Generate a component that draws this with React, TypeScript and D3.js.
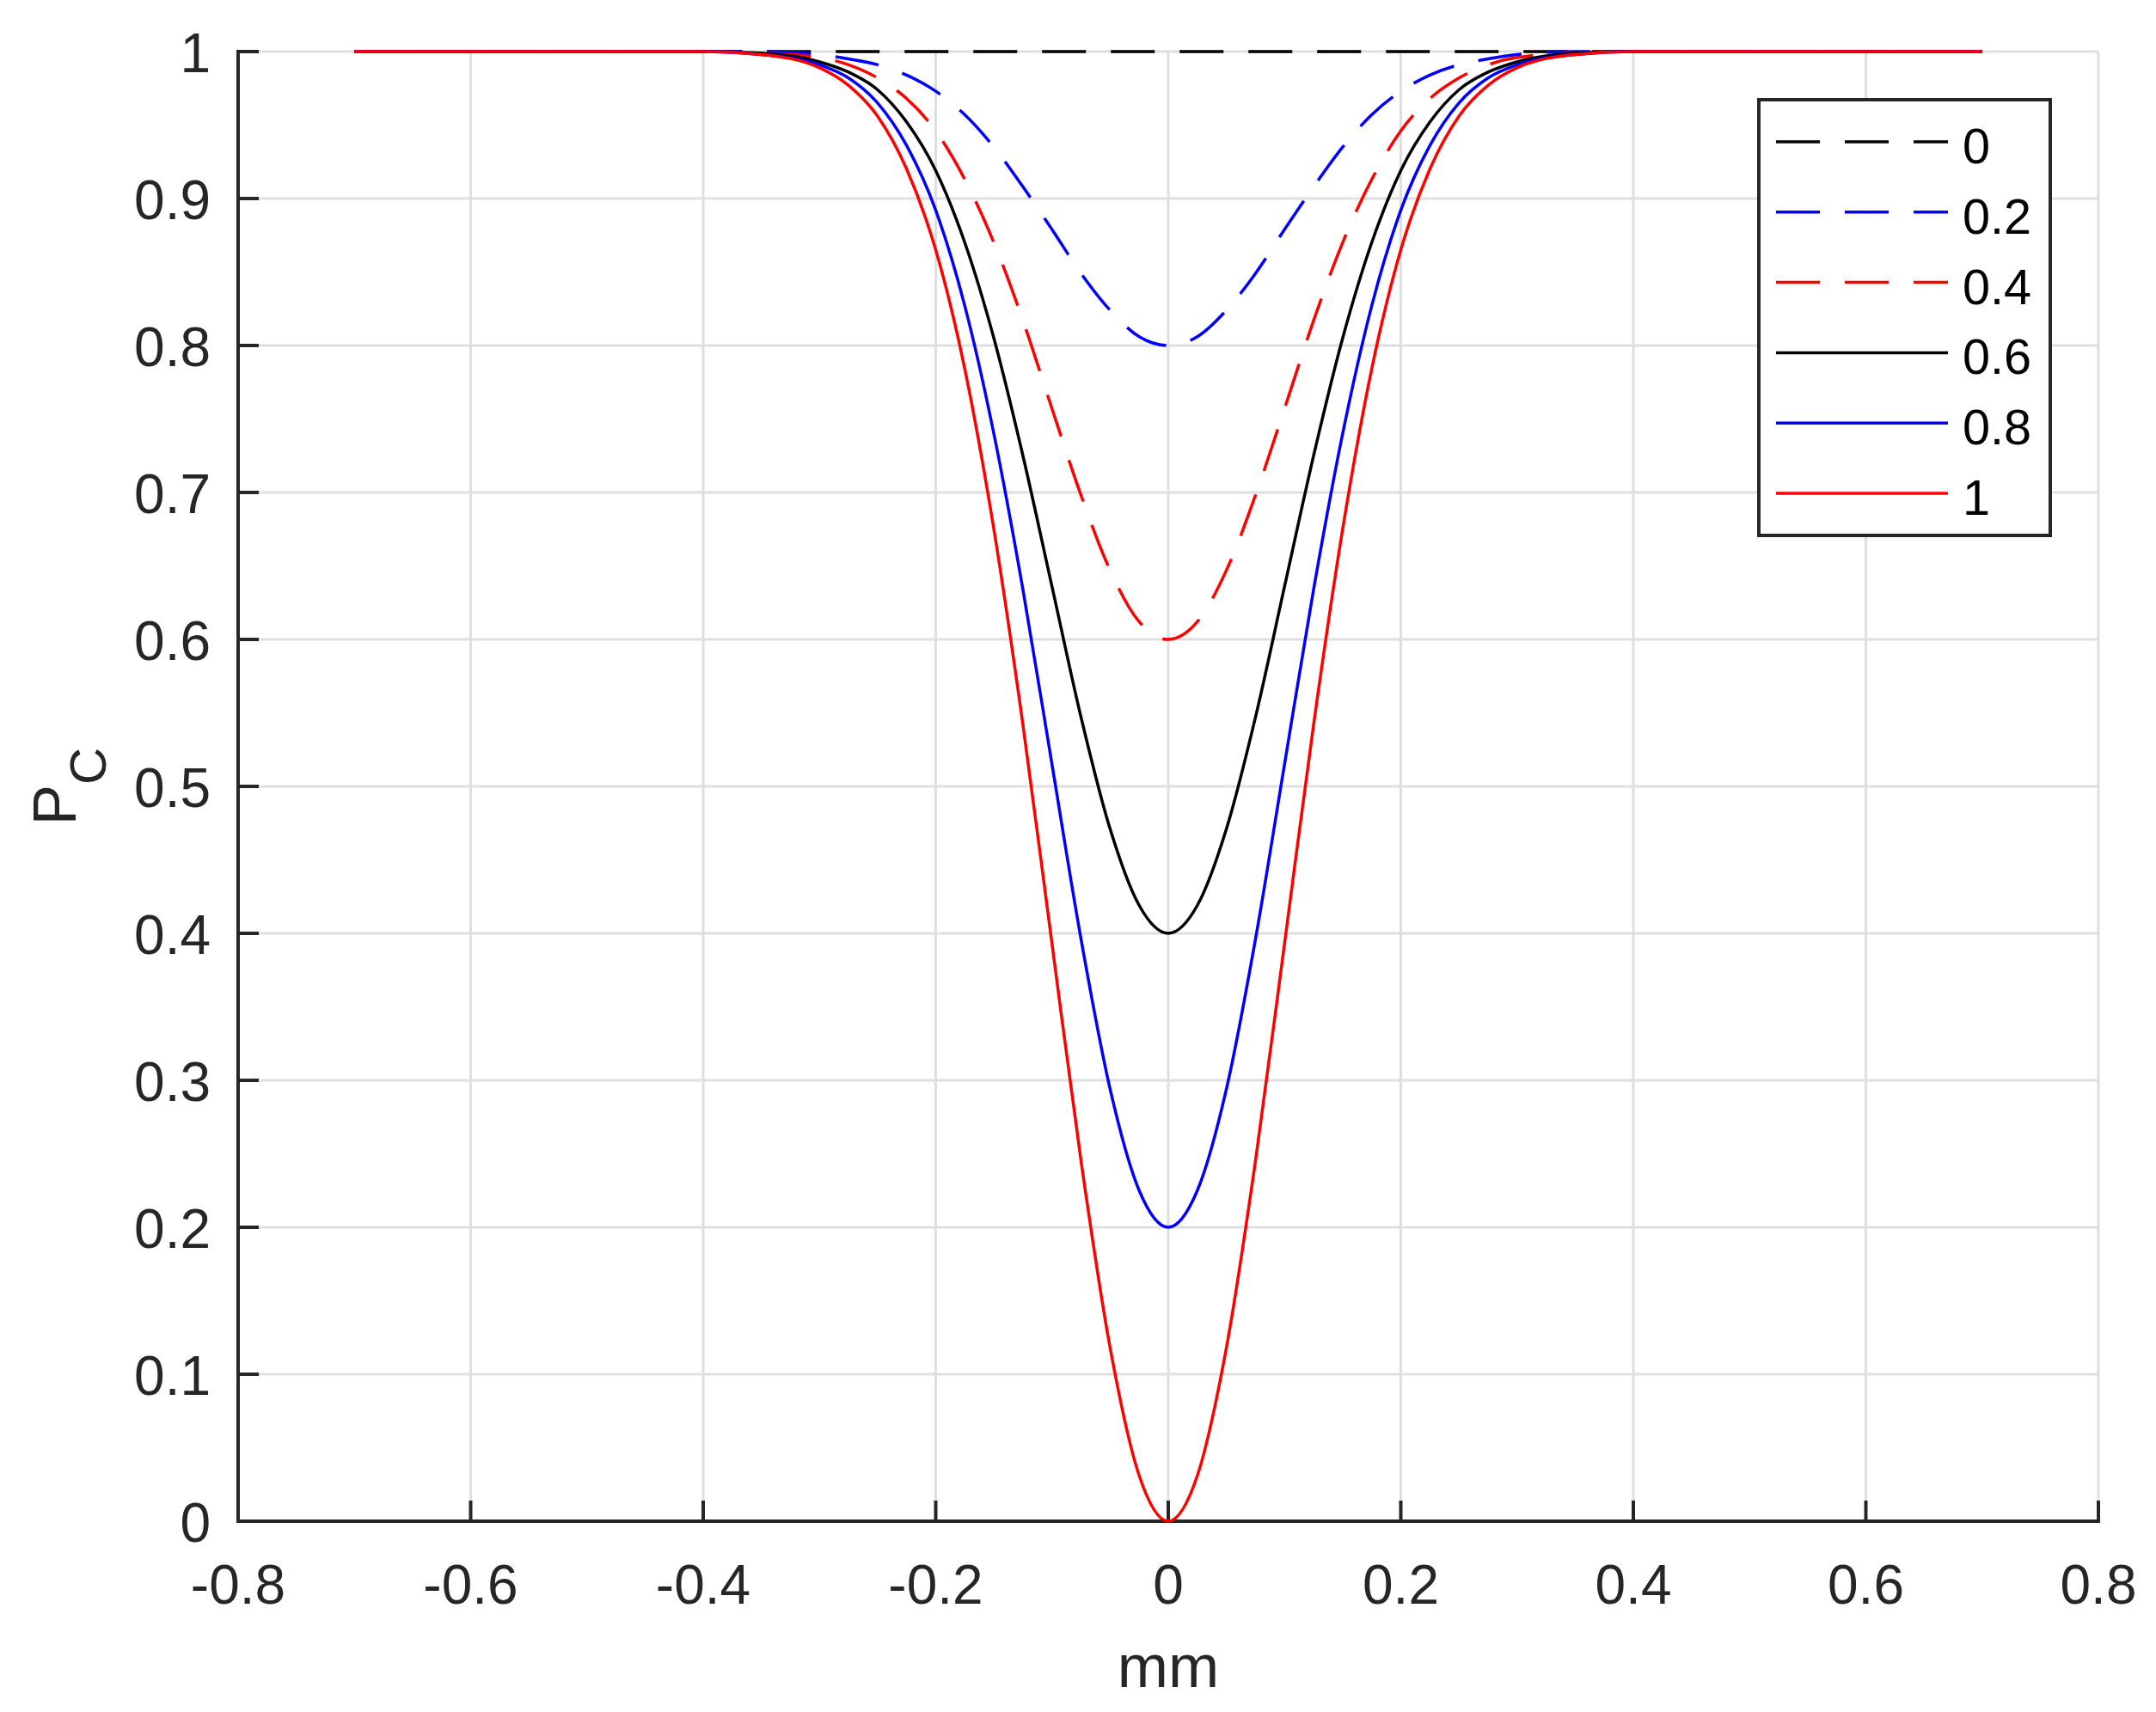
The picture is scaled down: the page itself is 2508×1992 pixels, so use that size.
// App.tsx
import React, { useRef, useEffect, FC } from 'react';
import * as d3 from 'd3';

// x positions (mm) of the sampled points
const xs = [
  -0.7, -0.5, -0.4, -0.35, -0.3, -0.275, -0.25, -0.225, -0.2, -0.175, -0.15, -0.125, -0.1, -0.075, -0.05, -0.025,
  0,
  0.025, 0.05, 0.075, 0.1, 0.125, 0.15, 0.175, 0.2, 0.225, 0.25, 0.275, 0.3, 0.35, 0.4, 0.5, 0.7,
];

// P_C values, one array per curve
const pc00 = [
  1, 1, 1, 1, 1, 1, 1, 1, 1, 1, 1, 1, 1, 1, 1, 1,
  1,
  1, 1, 1, 1, 1, 1, 1, 1, 1, 1, 1, 1, 1, 1, 1, 1,
];
const pc02 = [
  1, 1, 1.0, 1.0, 0.998, 0.995, 0.991, 0.984, 0.973, 0.957, 0.935, 0.908, 0.879, 0.849, 0.824, 0.806,
  0.8,
  0.806, 0.824, 0.849, 0.879, 0.908, 0.935, 0.957, 0.973, 0.984, 0.991, 0.995, 0.998, 1.0, 1.0, 1, 1,
];
const pc04 = [
  1, 1, 1, 0.999, 0.996, 0.991, 0.982, 0.968, 0.946, 0.913, 0.87, 0.817, 0.757, 0.698, 0.647, 0.612,
  0.6,
  0.612, 0.647, 0.698, 0.757, 0.817, 0.87, 0.913, 0.946, 0.968, 0.982, 0.991, 0.996, 0.999, 1, 1, 1,
];
const pc06 = [
  1, 1, 1, 0.999, 0.993, 0.986, 0.974, 0.952, 0.919, 0.87, 0.805, 0.725, 0.636, 0.547, 0.471, 0.419,
  0.4,
  0.419, 0.471, 0.547, 0.636, 0.725, 0.805, 0.87, 0.919, 0.952, 0.974, 0.986, 0.993, 0.999, 1, 1, 1,
];
const pc08 = [
  1, 1, 1, 0.998, 0.991, 0.982, 0.965, 0.936, 0.892, 0.827, 0.74, 0.634, 0.515, 0.396, 0.294, 0.225,
  0.2,
  0.225, 0.294, 0.396, 0.515, 0.634, 0.74, 0.827, 0.892, 0.936, 0.965, 0.982, 0.991, 0.998, 1, 1, 1,
];
const pc10 = [
  1, 1, 1, 0.998, 0.989, 0.977, 0.956, 0.92, 0.865, 0.784, 0.675, 0.542, 0.393, 0.245, 0.118, 0.031,
  0.0,
  0.031, 0.118, 0.245, 0.393, 0.542, 0.675, 0.784, 0.865, 0.92, 0.956, 0.977, 0.989, 0.998, 1, 1, 1,
];

const seriesLabels = ['0', '0.2', '0.4', '0.6', '0.8', '1'];
const seriesValues = [pc00, pc02, pc04, pc06, pc08, pc10];
const seriesColors = ['#000000', '#0000ff', '#ff0000', '#000000', '#0000ff', '#ff0000'];
const seriesDashed = [true, true, true, false, false, false];

const xTicks = [-0.8, -0.6, -0.4, -0.2, 0, 0.2, 0.4, 0.6, 0.8];
const xTickLabels = ['-0.8', '-0.6', '-0.4', '-0.2', '0', '0.2', '0.4', '0.6', '0.8'];
const yTicks = [0, 0.1, 0.2, 0.3, 0.4, 0.5, 0.6, 0.7, 0.8, 0.9, 1];
const yTickLabels = ['0', '0.1', '0.2', '0.3', '0.4', '0.5', '0.6', '0.7', '0.8', '0.9', '1'];

const W = 2508;
const H = 1992;
const FONT = '"Liberation Sans", Arial, Helvetica, sans-serif';
const AXIS = '#262626';
const GRID = '#dfdfdf';

const App: FC = () => {
  const svgRef = useRef<SVGSVGElement | null>(null);

  useEffect(() => {
    document.body.style.margin = '0';
    const svg = d3.select(svgRef.current);
    svg.selectAll('*').remove();

    const x = d3.scaleLinear().domain([-0.8, 0.8]).range([277, 2441]);
    const y = d3.scaleLinear().domain([0, 1]).range([1770, 60]);

    svg.append('rect').attr('width', W).attr('height', H).attr('fill', '#ffffff');

    // grid
    const grid = svg.append('g');
    grid.selectAll('line.gx').data(xTicks).join('line')
      .attr('class', 'gx')
      .attr('x1', (d) => x(d)).attr('x2', (d) => x(d))
      .attr('y1', y(0)).attr('y2', y(1))
      .attr('stroke', GRID).attr('stroke-width', 3);
    grid.selectAll('line.gy').data(yTicks).join('line')
      .attr('class', 'gy')
      .attr('y1', (d) => y(d)).attr('y2', (d) => y(d))
      .attr('x1', x(-0.8)).attr('x2', x(0.8))
      .attr('stroke', GRID).attr('stroke-width', 3);

    // axes lines + inward ticks
    const ax = svg.append('g');
    ax.append('line').attr('x1', x(-0.8)).attr('x2', x(0.8)).attr('y1', y(0)).attr('y2', y(0))
      .attr('stroke', AXIS).attr('stroke-width', 4).attr('stroke-linecap', 'square');
    ax.append('line').attr('x1', x(-0.8)).attr('x2', x(-0.8)).attr('y1', y(0)).attr('y2', y(1))
      .attr('stroke', AXIS).attr('stroke-width', 4).attr('stroke-linecap', 'square');
    ax.selectAll('line.tx').data(xTicks).join('line')
      .attr('class', 'tx')
      .attr('x1', (d) => x(d)).attr('x2', (d) => x(d))
      .attr('y1', y(0)).attr('y2', y(0) - 24)
      .attr('stroke', AXIS).attr('stroke-width', 4);
    ax.selectAll('line.ty').data(yTicks).join('line')
      .attr('class', 'ty')
      .attr('y1', (d) => y(d)).attr('y2', (d) => y(d))
      .attr('x1', x(-0.8)).attr('x2', x(-0.8) + 24)
      .attr('stroke', AXIS).attr('stroke-width', 4);

    // tick labels
    ax.selectAll('text.lx').data(xTicks).join('text')
      .attr('class', 'lx')
      .attr('x', (d) => x(d)).attr('y', 1866)
      .attr('text-anchor', 'middle')
      .attr('font-family', FONT).attr('font-size', 64).attr('fill', AXIS)
      .text((_, i) => xTickLabels[i]);
    ax.selectAll('text.ly').data(yTicks).join('text')
      .attr('class', 'ly')
      .attr('x', 245).attr('y', (d) => y(d) + 24)
      .attr('text-anchor', 'end')
      .attr('font-family', FONT).attr('font-size', 64).attr('fill', AXIS)
      .text((_, i) => yTickLabels[i]);

    // axis titles
    svg.append('text').attr('x', x(0)).attr('y', 1963)
      .attr('text-anchor', 'middle').attr('font-family', FONT).attr('font-size', 71).attr('fill', AXIS)
      .text('mm');
    const yl = svg.append('text').attr('transform', `translate(88,${(y(0) + y(1)) / 2}) rotate(-90)`)
      .attr('text-anchor', 'middle').attr('font-family', FONT).attr('font-size', 71).attr('fill', AXIS);
    yl.append('tspan').text('P');
    yl.append('tspan').attr('dy', 35).attr('font-size', 60).text('C');

    // curves
    const line = d3.line<number>()
      .x((_, i) => x(xs[i]))
      .y((d) => y(d))
      .curve(d3.curveMonotoneX);
    const curves = svg.append('g');
    seriesValues.forEach((vals, k) => {
      curves.append('path')
        .attr('d', line(vals))
        .attr('fill', 'none')
        .attr('stroke', seriesColors[k])
        .attr('stroke-width', 3.5)
        .attr('stroke-dasharray', seriesDashed[k] ? '51 29' : null);
    });

    // legend
    const lg = svg.append('g');
    lg.append('rect').attr('x', 2046).attr('y', 116).attr('width', 339).attr('height', 507)
      .attr('fill', '#ffffff').attr('stroke', AXIS).attr('stroke-width', 4);
    const rowY = d3.scalePoint<string>().domain(seriesLabels).range([165, 574]);
    seriesLabels.forEach((lab, k) => {
      const ry = rowY(lab) as number;
      lg.append('line').attr('x1', 2066).attr('x2', 2266).attr('y1', ry).attr('y2', ry)
        .attr('stroke', seriesColors[k]).attr('stroke-width', 3.5)
        .attr('stroke-dasharray', seriesDashed[k] ? '51 29' : null);
      lg.append('text').attr('x', 2283).attr('y', ry + 25)
        .attr('font-family', FONT).attr('font-size', 57.6).attr('fill', '#000000')
        .text(lab);
    });
  }, []);

  return <svg ref={svgRef} width={W} height={H} style={{ display: 'block' }} />;
};

export default App;
